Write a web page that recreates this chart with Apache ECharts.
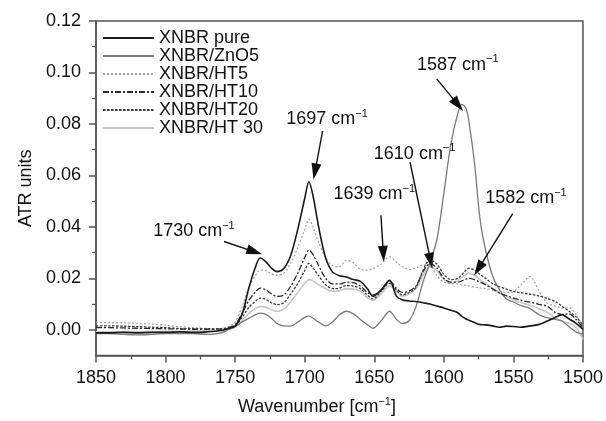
<!DOCTYPE html>
<html>
<head>
<meta charset="utf-8">
<script src="https://cdn.jsdelivr.net/npm/echarts@6/dist/echarts.min.js"></script>
<style>html,body{margin:0;padding:0;background:#fff}#c{width:606px;height:421px}</style>
</head>
<body>
<div id="c"></div>
<script>
const wavenumbers = [1850,1840,1830,1820,1810,1800,1790,1780,1770,1760,1755,1750,1745,1740,1735,1732,1728,1724,1720,1715,1710,1705,1700,1697,1694,1690,1685,1680,1675,1670,1665,1660,1655,1651,1645,1639,1634,1630,1625,1620,1615,1610,1605,1600,1595,1590,1587,1584,1582,1578,1574,1570,1565,1560,1555,1550,1545,1538,1532,1526,1520,1515,1510,1505,1500];

const xnbrPure = [-0.0012,-0.0012,-0.0010,-0.0012,-0.0010,-0.0010,-0.0008,-0.0010,-0.0008,-0.0003,0.0005,0.0015,0.006,0.0165,0.025,0.0279,0.0265,0.024,0.0226,0.0238,0.029,0.039,0.051,0.0575,0.052,0.040,0.028,0.0225,0.021,0.0205,0.0195,0.0188,0.016,0.013,0.0155,0.0192,0.013,0.0117,0.0112,0.011,0.0105,0.0100,0.0092,0.0085,0.0076,0.0066,0.0052,0.0042,0.0037,0.0028,0.0020,0.0019,0.0015,0.0010,0.0014,0.0013,0.0010,0.0015,0.0020,0.0033,0.0048,0.0059,0.0042,0.0025,0.0002];

const xnbrZnO5 = [-0.0015,-0.0015,-0.0018,-0.0020,-0.0018,-0.0015,-0.0015,-0.0015,-0.0018,-0.0012,0.0000,0.0012,0.003,0.0045,0.006,0.0065,0.006,0.0045,0.0025,0.0015,0.0014,0.003,0.0048,0.0053,0.0045,0.003,0.0015,0.003,0.0058,0.0072,0.0062,0.004,0.002,0.0006,0.0035,0.0072,0.004,0.0025,0.0035,0.009,0.0185,0.026,0.035,0.053,0.072,0.084,0.0876,0.086,0.081,0.065,0.043,0.031,0.021,0.0155,0.012,0.0108,0.0095,0.0082,0.006,0.0047,0.004,0.0034,0.0012,-0.0008,-0.0018];

const xnbrHT5 = [0.0027,0.0028,0.0027,0.0025,0.0022,0.0018,0.0012,0.0008,0.0005,0.0005,0.0012,0.003,0.009,0.0165,0.0215,0.0232,0.023,0.0218,0.0212,0.022,0.026,0.032,0.039,0.043,0.040,0.034,0.028,0.025,0.0245,0.027,0.026,0.0235,0.0232,0.0238,0.0255,0.0284,0.0262,0.0245,0.0235,0.024,0.0252,0.025,0.021,0.0185,0.018,0.0178,0.0175,0.0172,0.017,0.0166,0.0163,0.016,0.0155,0.015,0.0145,0.0148,0.0172,0.0207,0.0155,0.0105,0.0092,0.0085,0.0085,0.006,0.001];

const xnbrHT10 = [0.0008,0.0008,0.0007,0.0006,0.0005,0.0004,0.0003,0.0002,0.0002,0.0003,0.0008,0.002,0.0065,0.0115,0.015,0.0162,0.0155,0.014,0.013,0.0135,0.017,0.022,0.028,0.031,0.0292,0.025,0.020,0.0178,0.0178,0.0185,0.0183,0.017,0.0145,0.0135,0.0155,0.019,0.016,0.0145,0.015,0.017,0.0225,0.0258,0.024,0.020,0.0185,0.0185,0.019,0.0197,0.020,0.0195,0.0185,0.0175,0.016,0.0143,0.0133,0.0123,0.0115,0.0107,0.0099,0.0092,0.0068,0.0059,0.0062,0.004,0.0008];

const xnbrHT20 = [0.0015,0.0015,0.0014,0.0012,0.0010,0.0008,0.0005,0.0004,0.0003,0.0003,0.0007,0.0015,0.0048,0.0088,0.0113,0.0123,0.0118,0.0105,0.0098,0.0105,0.014,0.018,0.023,0.0258,0.024,0.021,0.0175,0.016,0.0162,0.0172,0.017,0.016,0.0135,0.012,0.015,0.018,0.0155,0.0135,0.0145,0.0165,0.023,0.0272,0.0255,0.0215,0.0195,0.020,0.0215,0.0232,0.0239,0.0232,0.0215,0.020,0.018,0.0168,0.0158,0.0149,0.0144,0.0138,0.0132,0.0122,0.011,0.0091,0.0072,0.005,0.002];

const xnbrHT30 = [-0.0008,-0.0008,-0.0007,-0.0008,-0.0007,-0.0006,-0.0006,-0.0005,-0.0005,-0.0003,0.0003,0.001,0.0035,0.0065,0.0084,0.0091,0.0087,0.0078,0.0072,0.008,0.011,0.0145,0.018,0.0195,0.019,0.0175,0.016,0.015,0.0152,0.016,0.0158,0.015,0.0125,0.0115,0.014,0.017,0.015,0.013,0.014,0.016,0.021,0.0245,0.023,0.0195,0.018,0.019,0.0205,0.0215,0.022,0.0212,0.0195,0.018,0.016,0.0142,0.013,0.0117,0.0107,0.0095,0.0083,0.0068,0.0046,0.0033,0.0025,0.001,-0.0037];

const seriesNames = ['XNBR pure','XNBR/ZnO5','XNBR/HT5','XNBR/HT10','XNBR/HT20','XNBR/HT 30'];
const xTicks = [1850,1800,1750,1700,1650,1600,1550,1500];
const yTicks = [0.00,0.02,0.04,0.06,0.08,0.10,0.12];
const yMinorTicks = [0.01,0.03,0.05,0.07,0.09,0.11];

// annotation labels (wavenumber, ATR units) and arrows [from, to]
const annLabels = ['1730','1697','1639','1610','1587','1582'];
const annTextPos = [[1779.6,0.0386],[1684,0.0823],[1650,0.0530],[1621,0.0688],[1590,0.1034],[1541,0.0514]];
const annArrowFrom = [[1758,0.0343],[1687.1,0.0773],[1645.2,0.0445],[1624.3,0.0651],[1605.1,0.0975],[1550.5,0.0451]];
const annArrowTo = [[1736,0.0303],[1692.6,0.0615],[1643.5,0.0295],[1609.5,0.0268],[1589.8,0.0874],[1575.2,0.0237]];

const FONT = 'Liberation Sans, Arial, Helvetica, sans-serif';
const dataSets = [xnbrPure, xnbrZnO5, xnbrHT5, xnbrHT10, xnbrHT20, xnbrHT30];
const styles = [
  {color:'#1a1a1a', width:1.6, type:'solid', z:8},
  {color:'#7a7a7a', width:1.3, type:'solid', z:3},
  {color:'#a0a0a0', width:1.2, type:[2,2], z:4},
  {color:'#2a2a2a', width:1.3, type:[6,2,2,2], z:6},
  {color:'#3a3a3a', width:1.3, type:[2.5,1.5], z:7},
  {color:'#c6c6c6', width:1.6, type:'solid', z:2}
];

const lineSeries = seriesNames.map((name, i) => ({
  name: name,
  type: 'line',
  data: wavenumbers.map((w, j) => [w, dataSets[i][j]]),
  showSymbol: false,
  symbol: 'none',
  legendIcon: 'path://M0,0',
  smooth: 0.3,
  z: styles[i].z,
  lineStyle: {color: styles[i].color, width: styles[i].width, type: styles[i].type},
  itemStyle: {color: styles[i].color},
  emphasis: {disabled: true},
  silent: true
}));

const annSeries = {
  type: 'scatter',
  name: 'annotations',
  silent: true,
  symbolSize: 0,
  z: 10,
  itemStyle: {opacity: 1},
  data: annTextPos.map((p, i) => ({value: p, label: {formatter: '{a|' + annLabels[i] + ' cm}{s|\u22121}'}})),
  label: {
    show: true,
    position: 'inside',
    color: '#111',
    opacity: 1,
    fontFamily: FONT,
    rich: {
      a: {fontSize: 18, fontFamily: FONT, color: '#111', lineHeight: 20, verticalAlign: 'bottom'},
      s: {fontSize: 11, fontFamily: FONT, color: '#111', lineHeight: 20, verticalAlign: 'top', padding: [0,0,10,0]}
    }
  },
  markLine: {
    silent: true,
    symbol: ['none', 'triangle'],
    symbolSize: [10, 16],
    label: {show: false},
    lineStyle: {color: '#111', width: 1.4, type: 'solid', opacity: 1},
    emphasis: {disabled: true},
    data: annArrowFrom.map((f, i) => [{coord: f}, {coord: annArrowTo[i]}])
  }
};

const chart = echarts.init(document.getElementById('c'), null, {renderer: 'canvas'});
chart.setOption({
  animation: false,
  backgroundColor: '#fff',
  grid: {left: 96, right: 23, top: 21, bottom: 63, show: true, borderColor: '#555', borderWidth: 1.5, backgroundColor: 'transparent'},
  legend: {
    data: seriesNames,
    orient: 'vertical',
    left: 102,
    top: 29,
    itemWidth: 51,
    itemHeight: 10,
    itemGap: 0,
    padding: 0,
    selectedMode: false,
    itemStyle: {opacity: 0},
    textStyle: {fontSize: 18, fontFamily: FONT, color: '#111', lineHeight: 15.6}
  },
  xAxis: {
    type: 'value',
    inverse: true,
    min: 1500, max: 1850, interval: 50,
    name: 'Wavenumber [cm{s|\u22121}]',
    nameLocation: 'middle',
    nameGap: 41,
    nameTextStyle: {fontSize: 18, fontFamily: FONT, color: '#111', padding: [0, 45, 0, 0],
      rich: {s: {fontSize: 11, fontFamily: FONT, color: '#111', verticalAlign: 'top', padding: [0,0,10,0]}}},
    axisLine: {show: true, onZero: false, lineStyle: {color: '#555', width: 1.5}},
    axisTick: {show: true, inside: false, length: 7, lineStyle: {color: '#555', width: 1.5}, customValues: xTicks},
    minorTick: {show: true, splitNumber: 2, length: 4, lineStyle: {color: '#555', width: 1.3}},
    axisLabel: {fontSize: 18, fontFamily: FONT, color: '#111', margin: 14, customValues: xTicks,
      formatter: v => String(Math.round(v))},
    splitLine: {show: false},
    minorSplitLine: {show: false}
  },
  yAxis: [{
    type: 'value',
    min: -0.01, max: 0.12,
    name: 'ATR units',
    nameLocation: 'middle',
    nameGap: 60,
    nameRotate: 90,
    nameTextStyle: {fontSize: 18, fontFamily: FONT, color: '#111'},
    axisLine: {show: true, onZero: false, lineStyle: {color: '#555', width: 1.5}},
    axisTick: {show: true, inside: false, length: 7, lineStyle: {color: '#555', width: 1.5}, customValues: yTicks},
    axisLabel: {fontSize: 18, fontFamily: FONT, color: '#111', margin: 15, customValues: yTicks,
      formatter: v => v.toFixed(2)},
    splitLine: {show: false}
  }, {
    type: 'value',
    position: 'left',
    offset: 0,
    min: -0.01, max: 0.12,
    axisLine: {show: false},
    axisTick: {show: true, inside: false, length: 4, lineStyle: {color: '#555', width: 1.3}, customValues: yMinorTicks},
    axisLabel: {show: false},
    splitLine: {show: false}
  }],
  series: lineSeries.concat([annSeries])
});
</script>
</body>
</html>
